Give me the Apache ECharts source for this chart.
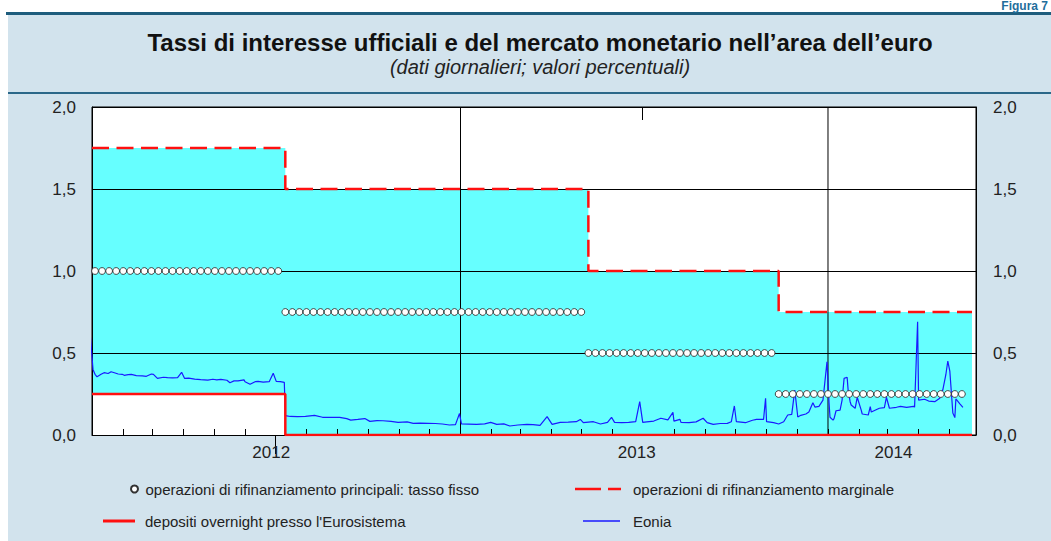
<!DOCTYPE html>
<html><head><meta charset="utf-8">
<script src="https://cdn.jsdelivr.net/npm/echarts@6/dist/echarts.min.js"></script>
<style>html,body{margin:0;padding:0;background:#fff;}#c{width:1051px;height:541px;}</style>
</head><body><div id="c"></div>
<script>
// ---- Data ----
// Official rates (step schedule: value in force from each date)
const rateDates = ['2012-01-01', '2012-07-11', '2013-05-08', '2013-11-13', '2014-05-24'];
const marginalRate = [1.75, 1.50, 1.00, 0.75, 0.75];
const depositRate = [0.25, 0.00, 0.00, 0.00, 0.00];

// Main refinancing operations (weekly, fixed rate)
const mroRates = [1.00, 0.75, 0.50, 0.25];
const mroDates100 = ['2012-01-04','2012-01-11','2012-01-18','2012-01-25','2012-02-01','2012-02-08','2012-02-15','2012-02-22','2012-02-29','2012-03-07','2012-03-14','2012-03-21','2012-03-28','2012-04-04','2012-04-11','2012-04-18','2012-04-25','2012-05-02','2012-05-09','2012-05-16','2012-05-23','2012-05-30','2012-06-06','2012-06-13','2012-06-20','2012-06-27','2012-07-04'];
const mroDates075 = ['2012-07-11','2012-07-18','2012-07-25','2012-08-01','2012-08-08','2012-08-15','2012-08-22','2012-08-29','2012-09-05','2012-09-12','2012-09-19','2012-09-26','2012-10-03','2012-10-10','2012-10-17','2012-10-24','2012-10-31','2012-11-07','2012-11-14','2012-11-21','2012-11-28','2012-12-05','2012-12-12','2012-12-19','2012-12-26','2013-01-02','2013-01-09','2013-01-16','2013-01-23','2013-01-30','2013-02-06','2013-02-13','2013-02-20','2013-02-27','2013-03-06','2013-03-13','2013-03-20','2013-03-27','2013-04-03','2013-04-10','2013-04-17','2013-04-24','2013-05-01'];
const mroDates050 = ['2013-05-08','2013-05-15','2013-05-22','2013-05-29','2013-06-05','2013-06-12','2013-06-19','2013-06-26','2013-07-03','2013-07-10','2013-07-17','2013-07-24','2013-07-31','2013-08-07','2013-08-14','2013-08-21','2013-08-28','2013-09-04','2013-09-11','2013-09-18','2013-09-25','2013-10-02','2013-10-09','2013-10-16','2013-10-23','2013-10-30','2013-11-06'];
const mroDates025 = ['2013-11-13','2013-11-20','2013-11-27','2013-12-04','2013-12-11','2013-12-18','2013-12-25','2014-01-01','2014-01-08','2014-01-15','2014-01-22','2014-01-29','2014-02-05','2014-02-12','2014-02-19','2014-02-26','2014-03-05','2014-03-12','2014-03-19','2014-03-26','2014-04-02','2014-04-09','2014-04-16','2014-04-23','2014-04-30','2014-05-07','2014-05-14'];

// Eonia (daily, values)
const eoniaDates = ['2011-12-30','2012-01-02','2012-01-04','2012-01-06','2012-01-10','2012-01-13','2012-01-17','2012-01-20','2012-01-24','2012-01-27','2012-01-31','2012-02-02','2012-02-06','2012-02-09','2012-02-14','2012-02-20','2012-02-24','2012-02-29','2012-03-02','2012-03-06','2012-03-12','2012-03-16','2012-03-21','2012-03-26','2012-03-30','2012-04-02','2012-04-06','2012-04-12','2012-04-18','2012-04-25','2012-04-30','2012-05-04','2012-05-08','2012-05-14','2012-05-17','2012-05-21','2012-05-25','2012-05-31','2012-06-01','2012-06-06','2012-06-11','2012-06-14','2012-06-19','2012-06-25','2012-06-29','2012-07-02','2012-07-06','2012-07-10','2012-07-11','2012-07-16','2012-07-23','2012-07-31','2012-08-09','2012-08-17','2012-08-24','2012-09-03','2012-09-10','2012-09-14','2012-09-21','2012-09-28','2012-10-03','2012-10-10','2012-10-16','2012-10-24','2012-10-31','2012-11-09','2012-11-15','2012-11-22','2012-11-30','2012-12-07','2012-12-14','2012-12-21','2012-12-27','2012-12-31','2013-01-02','2013-01-09','2013-01-17','2013-01-25','2013-01-31','2013-02-06','2013-02-13','2013-02-19','2013-02-27','2013-03-08','2013-03-14','2013-03-21','2013-03-28','2013-04-02','2013-04-10','2013-04-18','2013-04-26','2013-04-30','2013-05-03','2013-05-13','2013-05-20','2013-05-27','2013-05-31','2013-06-03','2013-06-10','2013-06-17','2013-06-24','2013-06-28','2013-07-01','2013-07-05','2013-07-12','2013-07-19','2013-07-26','2013-07-31','2013-08-01','2013-08-07','2013-08-08','2013-08-16','2013-08-23','2013-08-30','2013-09-03','2013-09-09','2013-09-16','2013-09-23','2013-09-27','2013-09-30','2013-10-02','2013-10-11','2013-10-18','2013-10-22','2013-10-29','2013-10-31','2013-11-01','2013-11-08','2013-11-13','2013-11-18','2013-11-22','2013-11-26','2013-11-29','2013-12-02','2013-12-05','2013-12-10','2013-12-13','2013-12-17','2013-12-19','2013-12-23','2013-12-27','2013-12-31','2014-01-02','2014-01-03','2014-01-06','2014-01-07','2014-01-09','2014-01-13','2014-01-15','2014-01-17','2014-01-20','2014-01-21','2014-01-23','2014-01-24','2014-01-28','2014-01-30','2014-02-03','2014-02-04','2014-02-10','2014-02-12','2014-02-13','2014-02-21','2014-02-26','2014-02-28','2014-03-03','2014-03-10','2014-03-14','2014-03-20','2014-03-27','2014-03-28','2014-03-31','2014-04-01','2014-04-07','2014-04-11','2014-04-17','2014-04-22','2014-04-25','2014-04-28','2014-04-30','2014-05-02','2014-05-05','2014-05-07','2014-05-08','2014-05-12','2014-05-15'];
const eoniaValues = [0.63,0.40,0.37,0.355,0.37,0.38,0.375,0.386,0.378,0.372,0.37,0.364,0.368,0.37,0.362,0.36,0.358,0.372,0.37,0.345,0.352,0.35,0.348,0.35,0.382,0.345,0.347,0.341,0.338,0.335,0.34,0.336,0.339,0.334,0.319,0.33,0.33,0.336,0.325,0.309,0.325,0.327,0.322,0.325,0.376,0.327,0.325,0.321,0.118,0.113,0.112,0.114,0.12,0.108,0.108,0.108,0.10,0.091,0.095,0.10,0.083,0.088,0.087,0.083,0.077,0.08,0.071,0.072,0.071,0.07,0.067,0.061,0.063,0.131,0.067,0.066,0.065,0.068,0.077,0.065,0.068,0.055,0.061,0.065,0.063,0.059,0.112,0.065,0.077,0.078,0.081,0.095,0.075,0.081,0.067,0.077,0.108,0.077,0.075,0.077,0.081,0.203,0.077,0.08,0.085,0.102,0.092,0.138,0.085,0.095,0.077,0.075,0.08,0.102,0.075,0.065,0.07,0.071,0.081,0.177,0.081,0.075,0.09,0.095,0.095,0.224,0.081,0.075,0.067,0.081,0.122,0.126,0.274,0.11,0.12,0.128,0.14,0.197,0.17,0.175,0.213,0.446,0.20,0.108,0.091,0.10,0.148,0.152,0.213,0.345,0.352,0.274,0.203,0.183,0.163,0.23,0.152,0.128,0.122,0.173,0.14,0.163,0.167,0.23,0.163,0.169,0.175,0.169,0.175,0.17,0.69,0.213,0.218,0.207,0.203,0.224,0.274,0.366,0.451,0.39,0.134,0.106,0.22,0.19,0.169];

// Axis furniture
const xMin = '2012-01-01';
const xMax = '2014-05-28';
const yearLines = ['2013-01-01', '2014-01-01'];
const yearLabelDates = ['2012-06-27', '2013-06-25', '2014-03-07'];
const monthTicks = ['2012-02-01','2012-03-01','2012-04-01','2012-05-01','2012-06-01','2012-08-01','2012-09-01','2012-10-01','2012-11-01','2012-12-01','2013-01-01','2013-02-01','2013-03-01','2013-04-01','2013-05-01','2013-06-01','2013-08-01','2013-09-01','2013-10-01','2013-11-01','2013-12-01','2014-01-01','2014-02-01','2014-03-01','2014-04-01','2014-05-01'];
const midYearTick2012 = ['2012-07-01'];
const midYearTick2013 = ['2013-07-01'];

const titleText = 'Tassi di interesse ufficiali e del mercato monetario nell’area dell’euro';
const subtitleText = '(dati giornalieri; valori percentuali)';
const figureText = 'Figura 7';
const names = {
  mro: 'operazioni di rifinanziamento principali: tasso fisso',
  marg: 'operazioni di rifinanziamento marginale',
  dep: "depositi overnight presso l'Eurosistema",
  eonia: 'Eonia'
};

// ---- Build ----
const T = s => +echarts.time.parse(s);
const FONT = '"Liberation Sans", Arial, Helvetica, sans-serif';
const marginalData = rateDates.map((d, i) => [T(d), marginalRate[i]]);
const depositData = rateDates.map((d, i) => [T(d), depositRate[i]]);
const eoniaData = eoniaDates.map((d, i) => [T(d), eoniaValues[i]]);
const mroData = [];
[mroDates100, mroDates075, mroDates050, mroDates025].forEach((arr, k) => arr.forEach(d => mroData.push([T(d), mroRates[k]])));

const fmtY = v => v.toFixed(1).replace('.', ',');
const RED = '#ff1010';
const BLUE = '#1a1aff';

const xAxisBase = { type: 'value', min: T(xMin), max: T(xMax), gridIndex: 0, z: 3, splitLine: { show: false }, scale: false };
const legendText = pad => ({ fontFamily: FONT, fontSize: 15, color: '#222', padding: [0, 0, 0, pad] });

const option = {
  animation: false,
  backgroundColor: '#d2e3ed',
  graphic: [
    { type: 'rect', shape: { x: 0, y: 0, width: 8, height: 541 }, style: { fill: '#fff' }, silent: true },
    { type: 'rect', shape: { x: 0, y: 0, width: 1051, height: 12 }, style: { fill: '#fff' }, silent: true },
    { type: 'rect', shape: { x: 6, y: 12, width: 1045, height: 3 }, style: { fill: '#1e5d7d' }, silent: true },
    { type: 'rect', shape: { x: 8, y: 92, width: 1043, height: 2 }, style: { fill: '#2b6889' }, silent: true },
    { type: 'text', x: 1048, y: 0, style: { text: figureText, font: 'bold 12px ' + FONT, fill: '#1f6e9c', verticalAlign: 'top', align: 'right' }, silent: true },
    { type: 'text', x: 540, y: 42, style: { text: titleText, font: 'bold 24px ' + FONT, fill: '#111', verticalAlign: 'middle', align: 'center', lineHeight: 24 }, silent: true },
    { type: 'text', x: 540, y: 67, style: { text: subtitleText, font: 'italic 20px ' + FONT, fill: '#222', verticalAlign: 'middle', align: 'center', lineHeight: 20 }, silent: true }
  ],
  grid: { left: 92, right: 75, top: 107, bottom: 106, show: true, backgroundColor: '#fff', borderColor: '#000', borderWidth: 1, containLabel: false },
  legend: [
    { data: [{ name: names.mro, icon: 'circle' }], left: 130, top: 481.5, padding: 0, itemWidth: 12, itemHeight: 7, selectedMode: false,
      textStyle: legendText(0) },
    { data: [{ name: names.dep, icon: 'rect' }], left: 103, top: 513.5, padding: 0, itemWidth: 32, itemHeight: 3, selectedMode: false,
      textStyle: legendText(5) },
    { data: [{ name: names.marg, icon: 'path://M0,0h26v2.5h-26z M33,0h13v2.5h-13z' }], left: 575, top: 481.5, padding: 0, itemWidth: 46, itemHeight: 2.5, selectedMode: false,
      textStyle: legendText(7) },
    { data: [{ name: names.eonia, icon: 'rect' }], left: 583, top: 513.5, padding: 0, itemWidth: 37, itemHeight: 1.4, selectedMode: false,
      textStyle: legendText(8) }
  ],
  xAxis: [
    Object.assign({}, xAxisBase, {
      axisLine: { show: true, lineStyle: { color: '#000', width: 1 } },
      axisTick: { show: true, inside: true, length: 6, customValues: monthTicks.map(T), lineStyle: { color: '#000', width: 1 } },
      axisLabel: { show: true, customValues: yearLabelDates.map(T), formatter: v => String(new Date(v).getFullYear()),
        fontFamily: FONT, fontSize: 17, color: '#222', margin: 9 }
    }),
    Object.assign({}, xAxisBase, {
      axisLine: { show: false },
      axisTick: { show: true, inside: true, length: 19, customValues: midYearTick2012.map(T), lineStyle: { color: '#000', width: 1 } },
      axisLabel: { show: false }
    }),
    Object.assign({}, xAxisBase, {
      axisLine: { show: false },
      axisTick: { show: true, inside: true, length: 13, customValues: midYearTick2013.map(T), lineStyle: { color: '#000', width: 1 } },
      axisLabel: { show: false }
    })
  ],
  yAxis: [
    { type: 'value', min: 0, max: 2, interval: 0.5, position: 'left', z: 3,
      axisLine: { show: true, lineStyle: { color: '#000', width: 1 } }, axisTick: { show: false },
      axisLabel: { formatter: fmtY, fontFamily: FONT, fontSize: 17, color: '#222', margin: 16 },
      splitLine: { show: true, lineStyle: { color: '#000', width: 1 } } },
    { type: 'value', min: 0, max: 2, interval: 0.5, position: 'right', z: 3,
      axisLine: { show: true, lineStyle: { color: '#000', width: 1 } }, axisTick: { show: false },
      axisLabel: { formatter: fmtY, fontFamily: FONT, fontSize: 17, color: '#222', margin: 17 },
      splitLine: { show: false } }
  ],
  series: [
    { name: 'corridoio', type: 'line', step: 'end', data: marginalData, symbol: 'none', silent: true, z: 1,
      lineStyle: { width: 0, opacity: 0 }, areaStyle: { color: '#66ffff', opacity: 1 } },
    { name: 'base', type: 'line', step: 'end', data: depositData, symbol: 'none', silent: true, z: 2,
      lineStyle: { width: 0, opacity: 0 }, areaStyle: { color: '#ffffff', opacity: 1 } },
    { name: 'anni', type: 'custom', silent: true, z: 3,
      data: yearLines.map(d => [T(d)]),
      renderItem: (params, api) => {
        const a = api.coord([api.value(0), 2]);
        const b = api.coord([api.value(0), 0]);
        return { type: 'line', shape: { x1: a[0], y1: a[1], x2: b[0], y2: b[1] }, style: { stroke: '#000', lineWidth: 1 } };
      } },
    { name: names.eonia, type: 'line', data: eoniaData, symbol: 'none', z: 4,
      lineStyle: { color: BLUE, width: 1.2 }, itemStyle: { color: BLUE } },
    { name: names.marg, type: 'line', step: 'end', data: marginalData, symbol: 'none', z: 5,
      lineStyle: { color: RED, width: 2.5, type: [17, 7.5] }, itemStyle: { color: RED } },
    { name: names.dep, type: 'line', step: 'end', data: depositData, symbol: 'none', z: 5,
      lineStyle: { color: RED, width: 2.5 }, itemStyle: { color: RED } },
    { name: names.mro, type: 'scatter', data: mroData, symbol: 'circle', symbolSize: 6.8, z: 6,
      itemStyle: { color: '#fff', borderColor: '#333', borderWidth: 0.9, opacity: 1 } }
  ]
};

const chart = echarts.init(document.getElementById('c'), null, { renderer: 'svg' });
chart.setOption(option);
</script>
</body></html>
